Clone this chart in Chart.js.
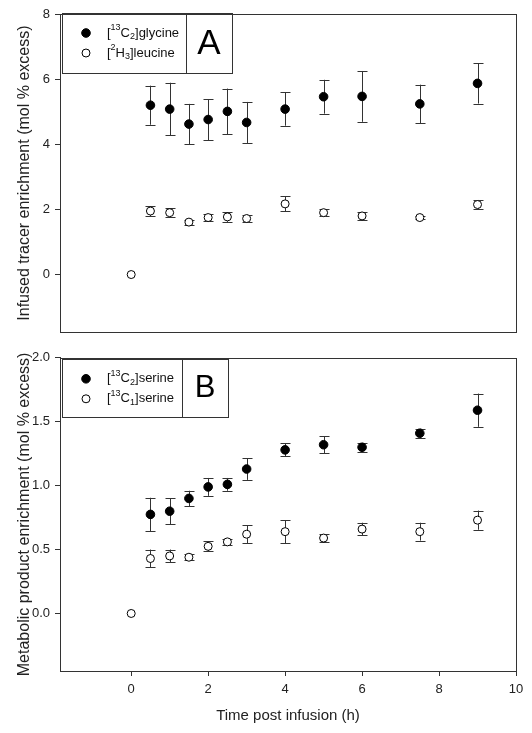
<!DOCTYPE html>
<html>
<head>
<meta charset="utf-8">
<script src="https://cdn.jsdelivr.net/npm/chart.js@4"></script>
<style>
  body { margin: 0; background: #fff; }
  #wrap { position: relative; width: 532px; height: 733px; }
  canvas { position: absolute; left: 0; }
  #chartA { top: 0; }
  #chartB { top: 345px; }
</style>
</head>
<body>
<div id="wrap">
  <canvas id="chartA" width="532" height="345"></canvas>
  <canvas id="chartB" width="532" height="388"></canvas>
</div>
<script>
// Data
const time = [0.5, 1, 1.5, 2, 2.5, 3, 4, 5, 6, 7.5, 9];
const timeWithZero = [0, 0.5, 1, 1.5, 2, 2.5, 3, 4, 5, 6, 7.5, 9];

const glycine    = [5.20, 5.08, 4.62, 4.76, 5.01, 4.67, 5.08, 5.46, 5.47, 5.24, 5.87];
const glycineErr = [0.60, 0.81, 0.62, 0.63, 0.70, 0.63, 0.51, 0.52, 0.78, 0.59, 0.62];
const leucine    = [0, 1.95, 1.90, 1.61, 1.75, 1.77, 1.72, 2.17, 1.90, 1.80, 1.75, 2.15];
const leucineErr = [0, 0.15, 0.13, 0.08, 0.10, 0.15, 0.12, 0.23, 0.10, 0.12, 0.05, 0.14];

const serineC2    = [0.775, 0.80, 0.90, 0.99, 1.01, 1.13, 1.28, 1.32, 1.30, 1.41, 1.59];
const serineC2Err = [0.13, 0.10, 0.06, 0.07, 0.05, 0.085, 0.05, 0.067, 0.035, 0.035, 0.13];
const serineC1    = [0, 0.43, 0.45, 0.44, 0.525, 0.56, 0.62, 0.64, 0.59, 0.66, 0.64, 0.73];
const serineC1Err = [0, 0.07, 0.05, 0.025, 0.04, 0.025, 0.07, 0.09, 0.03, 0.05, 0.07, 0.075];

const xTicks  = [0, 2, 4, 6, 8, 10];
const yTicksA = [0, 2, 4, 6, 8];
const yTicksB = [0, 0.5, 1.0, 1.5, 2.0];

// legend labels: [text, style] with style '', 'sup' or 'sub'
const glycineLabel = [['[', ''], ['13', 'sup'], ['C', ''], ['2', 'sub'], [']glycine', '']];
const leucineLabel = [['[', ''], ['2', 'sup'], ['H', ''], ['3', 'sub'], [']leucine', '']];
const serC2Label   = [['[', ''], ['13', 'sup'], ['C', ''], ['2', 'sub'], [']serine', '']];
const serC1Label   = [['[', ''], ['13', 'sup'], ['C', ''], ['1', 'sub'], [']serine', '']];

const FONT = 'Arial, "Liberation Sans", sans-serif';
const INK = '#222';

function toPoints(xs, ys) {
    return xs.map((x, i) => ({ x: x, y: ys[i] }));
}

// Error bars, drawn behind the markers
const errorBars = {
    id: 'errorBars',
    beforeDatasetsDraw(chart) {
        const ctx = chart.ctx;
        const yScale = chart.scales.y;
        ctx.save();
        ctx.strokeStyle = '#333';
        ctx.lineWidth = 1;
        chart.data.datasets.forEach((ds, i) => {
            const meta = chart.getDatasetMeta(i);
            meta.data.forEach((pt, j) => {
                const e = ds.errors[j];
                if (!e) return;
                const v = ds.data[j].y;
                const x = Math.round(pt.x) + 0.5;
                const yTop = yScale.getPixelForValue(v + e);
                const yBot = yScale.getPixelForValue(v - e);
                ctx.beginPath();
                ctx.moveTo(x, yTop); ctx.lineTo(x, yBot);
                ctx.moveTo(x - 5, Math.round(yTop) + 0.5); ctx.lineTo(x + 5, Math.round(yTop) + 0.5);
                ctx.moveTo(x - 5, Math.round(yBot) + 0.5); ctx.lineTo(x + 5, Math.round(yBot) + 0.5);
                ctx.stroke();
            });
        });
        ctx.restore();
    }
};

function drawRich(ctx, parts, x, y) {
    parts.forEach(([t, s]) => {
        const size = s ? 9 : 13;
        const dy = s === 'sup' ? -5 : (s === 'sub' ? 4 : 0);
        ctx.font = size + 'px ' + FONT;
        ctx.fillText(t, x, y + dy);
        x += ctx.measureText(t).width;
    });
}

// Frame around the plot plus the legend / panel letter boxes
const panelDecor = {
    id: 'panelDecor',
    afterDraw(chart, args, opts) {
        const ctx = chart.ctx;
        const a = chart.chartArea;
        ctx.save();
        ctx.strokeStyle = '#333';
        ctx.lineWidth = 1;
        ctx.strokeRect(Math.round(a.left) + 0.5, Math.round(a.top) + 0.5,
            Math.round(a.right - a.left), Math.round(a.bottom - a.top));

        const bx = a.left + 2, by = a.top + opts.dy;
        ctx.strokeRect(Math.round(bx) + 0.5, Math.round(by) + 0.5, opts.w, opts.h);
        ctx.strokeRect(Math.round(bx + opts.w) + 0.5, Math.round(by) + 0.5, opts.lw, opts.h);

        const rows = [by + 20, by + 40];
        chart.data.datasets.forEach((ds, i) => {
            const my = rows[i];
            ctx.beginPath();
            ctx.arc(bx + 24, my, ds.pointRadius, 0, Math.PI * 2);
            ctx.fillStyle = ds.backgroundColor;
            ctx.fill();
            ctx.strokeStyle = '#000';
            ctx.stroke();
            ctx.fillStyle = '#111';
            ctx.textBaseline = 'middle';
            ctx.textAlign = 'left';
            drawRich(ctx, opts.labels[i], bx + 45, my);
        });

        ctx.fillStyle = '#000';
        ctx.textAlign = 'center';
        ctx.textBaseline = 'middle';
        ctx.font = opts.letterSize + 'px ' + FONT;
        ctx.fillText(opts.letter, bx + opts.w + opts.lw / 2, by + opts.h / 2 + 1);
        ctx.restore();
    }
};

function yAxis(min, max, ticks, title, fmt) {
    return {
        type: 'linear',
        min: min,
        max: max,
        afterFit: s => { s.width = 48; },
        afterBuildTicks: s => { s.ticks = ticks.map(v => ({ value: v })); },
        ticks: { font: { size: 13, family: FONT }, color: INK, padding: 5, callback: fmt },
        grid: { drawOnChartArea: false, drawTicks: true, tickLength: 5, color: '#333' },
        border: { color: '#333' },
        title: { display: true, text: title, font: { size: 16, family: FONT }, color: INK, padding: 4 }
    };
}

function pointStyle(filled) {
    return {
        showLine: false,
        pointRadius: filled ? 4.3 : 4,
        pointHoverRadius: 4,
        backgroundColor: filled ? '#000' : '#fff',
        borderColor: '#000',
        borderWidth: 1
    };
}

new Chart(document.getElementById('chartA'), {
    type: 'scatter',
    data: {
        datasets: [
            Object.assign({ label: 'glycine', data: toPoints(time, glycine), errors: glycineErr }, pointStyle(true)),
            Object.assign({ label: 'leucine', data: toPoints(timeWithZero, leucine), errors: leucineErr }, pointStyle(false))
        ]
    },
    options: {
        responsive: false,
        animation: false,
        layout: { padding: { left: 11, right: 16, top: 14, bottom: 0 } },
        scales: {
            x: {
                type: 'linear', min: -1.85, max: 10,
                afterFit: s => { s.height = 5; },
                ticks: { display: false },
                grid: { display: false },
                border: { color: '#333' }
            },
            y: Object.assign(yAxis(-1.77, 8, yTicksA, 'Infused tracer enrichment (mol % excess)', v => v),
                { afterFit: s => { s.width = 49; } })
        },
        plugins: {
            legend: { display: false },
            tooltip: { enabled: false },
            panelDecor: { dy: -1, w: 124, h: 60, lw: 46, letter: 'A', letterSize: 35,
                labels: [glycineLabel, leucineLabel] }
        }
    },
    plugins: [errorBars, panelDecor]
});

new Chart(document.getElementById('chartB'), {
    type: 'scatter',
    data: {
        datasets: [
            Object.assign({ label: 'serine C2', data: toPoints(time, serineC2), errors: serineC2Err }, pointStyle(true)),
            Object.assign({ label: 'serine C1', data: toPoints(timeWithZero, serineC1), errors: serineC1Err }, pointStyle(false))
        ]
    },
    options: {
        responsive: false,
        animation: false,
        layout: { padding: { left: 11, right: 16, top: 4, bottom: 4 } },
        scales: {
            x: {
                type: 'linear', min: -1.85, max: 10,
                afterFit: s => { s.height = 58; },
                afterBuildTicks: s => { s.ticks = xTicks.map(v => ({ value: v })); },
                ticks: { font: { size: 13, family: FONT }, color: INK, padding: 6, maxRotation: 0 },
                grid: { drawOnChartArea: false, drawTicks: true, tickLength: 5, color: '#333' },
                border: { color: '#333' },
                title: { display: true, text: 'Time post infusion (h)', font: { size: 15, family: FONT }, color: INK, padding: 4 }
            },
            y: Object.assign(yAxis(-0.45, 2.0, yTicksB, 'Metabolic product enrichment (mol % excess)', v => v.toFixed(1)),
                { afterFit: s => { s.width = 49; } })
        },
        plugins: {
            legend: { display: false },
            tooltip: { enabled: false },
            panelDecor: { dy: 1, w: 120, h: 58, lw: 46, letter: 'B', letterSize: 31,
                labels: [serC2Label, serC1Label] }
        }
    },
    plugins: [errorBars, panelDecor]
});
</script>
</body>
</html>
